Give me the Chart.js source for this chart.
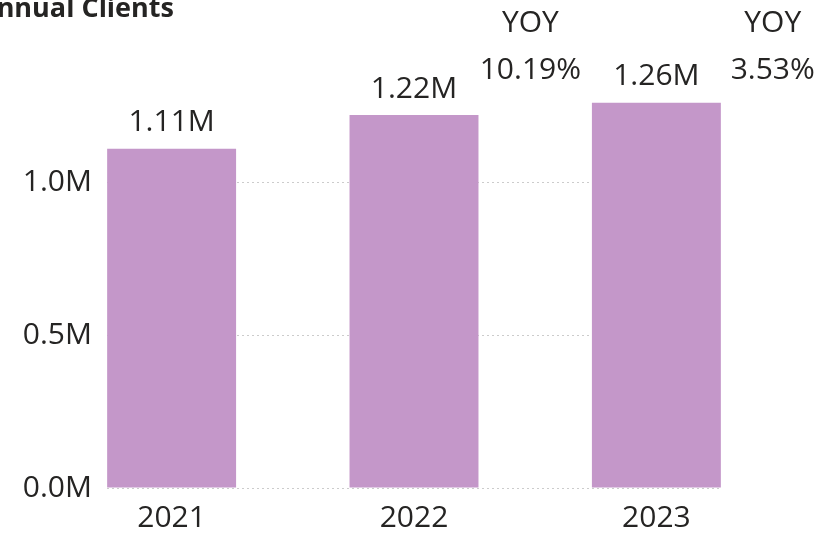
<!DOCTYPE html>
<html>
<head>
<meta charset="utf-8">
<script src="https://cdn.jsdelivr.net/npm/chart.js@4"></script>
<style>
  html, body { margin: 0; padding: 0; background: #fff; overflow: hidden; }
  #wrap { position: relative; width: 822px; height: 533px; }
  #title {
    position: absolute; left: -22px; top: -12px;
    font: bold 27px "Open Sans", sans-serif; color: #252423; white-space: nowrap;
  }
</style>
</head>
<body>
<div id="wrap">
  <canvas id="chart" width="822" height="533"></canvas>
  <div id="title">Annual Clients</div>
</div>
<script>
// Annual client counts by year
const years = ["2021", "2022", "2023"];
const clients = [1110000, 1220000, 1260000];
// year-over-year change shown next to each bar (none for the first year)
const yoyPct = [null, 10.19, 3.53];
const yTicks = [0, 500000, 1000000];

const BAR_COLOR = "#C497C9";
const TEXT_COLOR = "#252423";
const FONT = '"Open Sans", "Segoe UI", sans-serif';

// draws value labels above the bars and the YOY callouts
const labelsPlugin = {
  id: "labels",
  afterDatasetsDraw(chart) {
    const ctx = chart.ctx;
    const xs = chart.scales.x;
    const meta = chart.getDatasetMeta(0);
    ctx.save();
    ctx.fillStyle = TEXT_COLOR;
    ctx.textAlign = "center";
    ctx.textBaseline = "middle";
    ctx.font = "30px " + FONT;
    meta.data.forEach((bar, i) => {
      ctx.fillText((clients[i] / 1e6).toFixed(2) + "M", bar.x, bar.y - 26);
    });
    yoyPct.forEach((p, i) => {
      if (p === null) return;
      const x = xs.getPixelForValue(i + 0.48);
      ctx.fillText("YOY", x, chart.chartArea.top - 37);
      ctx.fillText(p.toFixed(2) + "%", x, chart.chartArea.top + 10);
    });
    ctx.restore();
  },
};

new Chart(document.getElementById("chart"), {
  type: "bar",
  data: {
    datasets: [
      {
        data: clients.map((v, i) => ({ x: i, y: v })),
        backgroundColor: BAR_COLOR,
        categoryPercentage: 1,
        barPercentage: 0.532,
      },
    ],
  },
  options: {
    responsive: false,
    animation: false,
    layout: { padding: { top: 60, right: 101, bottom: 0, left: 0 } },
    plugins: { legend: { display: false }, tooltip: { enabled: false } },
    scales: {
      x: {
        type: "linear",
        offset: false,
        min: -0.2666,
        max: 2.2666,
        grid: { display: false },
        border: { display: false },
        afterBuildTicks: (s) => { s.ticks = years.map((_, i) => ({ value: i })); },
        afterFit: (s) => { s.height = 45; },
        ticks: {
          padding: 4,
          color: TEXT_COLOR,
          font: { family: FONT, size: 30 },
          callback: (v) => years[v],
        },
      },
      y: {
        min: 0,
        max: 1400000,
        border: { display: false, dash: [2, 3] },
        grid: { color: "#cccccc", lineWidth: 1, drawTicks: false },
        afterBuildTicks: (s) => { s.ticks = yTicks.map((v) => ({ value: v })); },
        afterFit: (s) => { s.width = 107; },
        ticks: {
          padding: 15,
          color: TEXT_COLOR,
          font: { family: FONT, size: 30 },
          callback: (v) => (v / 1e6).toFixed(1) + "M",
        },
      },
    },
  },
  plugins: [labelsPlugin],
});
</script>
</body>
</html>
